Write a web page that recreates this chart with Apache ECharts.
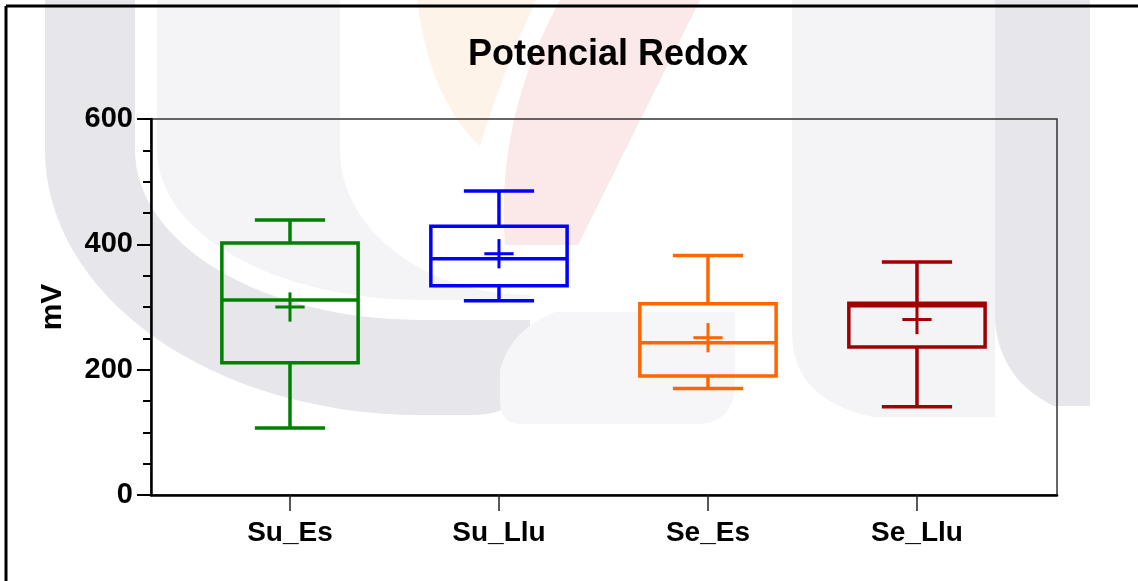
<!DOCTYPE html>
<html>
<head>
<meta charset="utf-8">
<script src="https://cdn.jsdelivr.net/npm/echarts@6/dist/echarts.min.js"></script>
<style>
  html, body { margin: 0; padding: 0; background: #fff; }
  #main { width: 1138px; height: 581px; }
</style>
</head>
<body>
<div id="main"></div>
<script>
// box plot values (mV)
var categories = ['Su_Es', 'Su_Llu', 'Se_Es', 'Se_Llu'];
var whiskerLow = [107, 310, 170, 141];
var q1 = [211, 334, 190, 236];
var median = [311, 377, 243, 302];
var q3 = [402, 429, 305, 306];
var whiskerHigh = [439, 485, 382, 372];
var means = [300, 385, 251, 280];
var colors = ['#008000', '#0000ff', '#ff6600', '#a00000'];

var FONT = '"Liberation Sans", Arial, sans-serif';

var boxData = categories.map(function (c, i) {
    return [i, whiskerLow[i], q1[i], median[i], q3[i], whiskerHigh[i], means[i]];
});

function renderBox(params, api) {
    var i = api.value(0);
    var col = colors[i];
    var unit = api.size([1, 0])[0];
    var halfBox = unit * 0.326;
    var halfCap = unit * 0.168;
    var halfMean = unit * 0.07;
    var pLow = api.coord([i, api.value(1)]);
    var pQ1 = api.coord([i, api.value(2)]);
    var pMed = api.coord([i, api.value(3)]);
    var pQ3 = api.coord([i, api.value(4)]);
    var pHigh = api.coord([i, api.value(5)]);
    var pMean = api.coord([i, api.value(6)]);
    var cx = pMed[0];
    function ln(x1, y1, x2, y2, w) {
        return { type: 'line', shape: { x1: x1, y1: y1, x2: x2, y2: y2 },
                 style: { stroke: col, lineWidth: w || 3.5 } };
    }
    return {
        type: 'group',
        children: [
            { type: 'rect', shape: { x: cx - halfBox, y: pQ3[1], width: halfBox * 2, height: pQ1[1] - pQ3[1] },
              style: { stroke: col, lineWidth: 3.5, fill: null } },
            ln(cx - halfBox, pMed[1], cx + halfBox, pMed[1]),
            ln(cx, pQ3[1], cx, pHigh[1]),
            ln(cx, pQ1[1], cx, pLow[1]),
            ln(cx - halfCap, pHigh[1], cx + halfCap, pHigh[1]),
            ln(cx - halfCap, pLow[1], cx + halfCap, pLow[1]),
            ln(cx - halfMean, pMean[1], cx + halfMean, pMean[1], 3),
            ln(cx, pMean[1] - halfMean, cx, pMean[1] + halfMean, 3)
        ]
    };
}

// faint watermark shapes behind the chart (page decoration, not data)
var watermark = [
    ['M45 0 L45 150 A375 265 0 0 0 420 415 L470 415 Q530 415 530 365 L530 320 L420 320 A285 170 0 0 1 135 150 L135 0 Z', '#e6e6eb'],
    ['M157 0 L157 150 A263 150 0 0 0 420 300 L530 300 L530 295 A190 145 0 0 1 340 150 L340 0 Z', '#f4f4f7'],
    ['M417 0 L536 0 Q500 80 480 146 Q430 100 417 0 Z', '#fdf3e8'],
    ['M560 0 L700 0 L578 245 L505 245 Q495 120 560 0 Z', '#fbe8e8'],
    ['M555 312 L735 312 L735 384 Q735 424 695 424 L520 424 Q500 424 500 400 L500 370 Q510 330 555 312 Z', '#f6f6f9'],
    ['M792 0 L995 0 L995 417 L873 417 Q792 400 792 332 Z', '#f4f4f7'],
    ['M995 0 L1090 0 L1090 406 L1054 406 Q1000 380 995 321 Z', '#e6e6eb']
];

function renderWatermark() {
    return {
        type: 'group',
        children: watermark.map(function (w) {
            return { type: 'path', shape: { pathData: w[0] }, style: { fill: w[1] } };
        })
    };
}

var chart = echarts.init(document.getElementById('main'));

var option = {
    backgroundColor: '#fff',
    animation: false,
    title: {
        text: 'Potencial Redox',
        left: 603,
        top: 32,
        textAlign: 'center',
        textStyle: { fontFamily: FONT, fontWeight: 'bold', fontSize: 36, color: '#000' }
    },
    graphic: [
        { type: 'line', silent: true, z: 100, shape: { x1: 6, y1: 6, x2: 1138, y2: 6 }, style: { stroke: '#000', lineWidth: 3 } },
        { type: 'line', silent: true, z: 100, shape: { x1: 6, y1: 6, x2: 6, y2: 581 }, style: { stroke: '#000', lineWidth: 3 } }
    ],
    grid: {
        left: 151,
        right: 81,
        top: 119,
        height: 376,
        show: true,
        backgroundColor: 'transparent',
        borderColor: '#333',
        borderWidth: 1.5
    },
    xAxis: {
        type: 'value',
        min: -0.665,
        max: 3.67,
        splitLine: { show: false },
        axisLine: { show: true, onZero: false, lineStyle: { color: '#000', width: 2.5 } },
        axisTick: { show: true, length: 16, customValues: [0, 1, 2, 3], lineStyle: { color: '#222', width: 1.5 } },
        axisLabel: {
            customValues: [0, 1, 2, 3],
            margin: 24,
            formatter: function (v) { return categories[Math.round(v)] || ''; },
            fontFamily: FONT, fontWeight: 'bold', fontSize: 28, color: '#000'
        }
    },
    yAxis: {
        type: 'value',
        min: 0,
        max: 600,
        interval: 200,
        name: 'mV',
        nameLocation: 'middle',
        nameRotate: 90,
        nameGap: 83,
        nameTextStyle: { fontFamily: FONT, fontWeight: 'bold', fontSize: 30, color: '#000' },
        splitLine: { show: false },
        axisLine: { show: true, onZero: false, lineStyle: { color: '#000', width: 2.5 } },
        axisTick: { show: true, length: 14, lineStyle: { color: '#000', width: 2 } },
        minorTick: { show: true, splitNumber: 4, length: 8, lineStyle: { color: '#000', width: 2 } },
        axisLabel: {
            margin: 18,
            fontFamily: FONT, fontWeight: 'bold', fontSize: 29, color: '#000'
        }
    },
    series: [{
        type: 'custom',
        coordinateSystem: 'none',
        renderItem: renderWatermark,
        data: [0],
        silent: true,
        z: -10
    }, {
        type: 'custom',
        renderItem: renderBox,
        encode: { x: 0, y: [1, 2, 3, 4, 5, 6] },
        data: boxData,
        z: 5
    }]
};

chart.setOption(option);
</script>
</body>
</html>
